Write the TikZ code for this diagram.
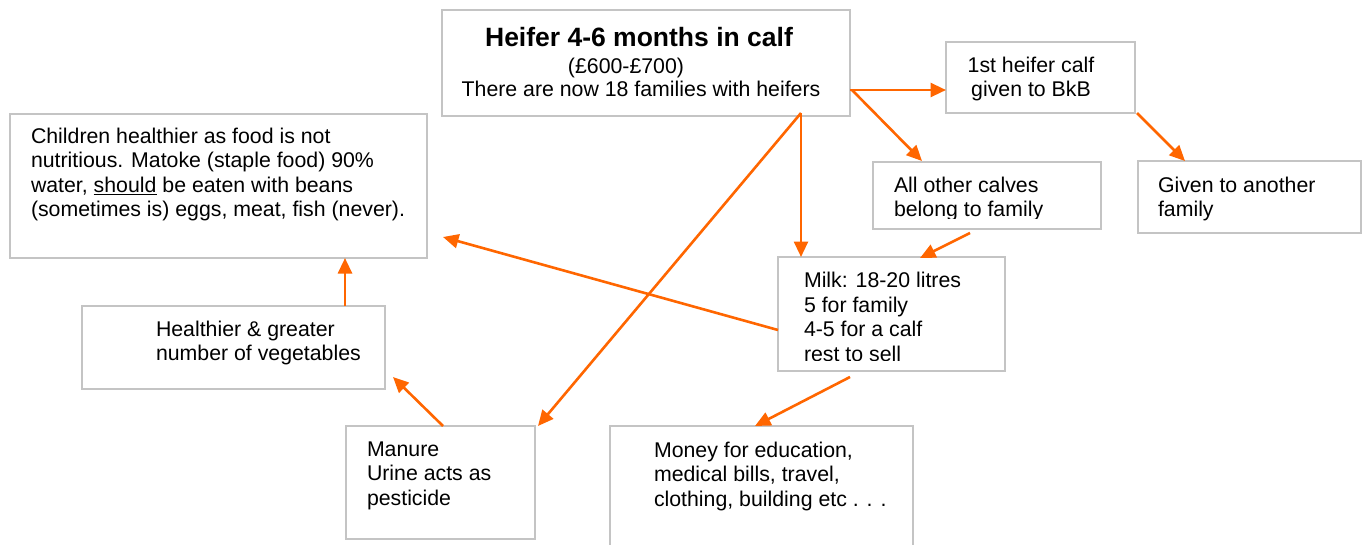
\documentclass[tikz,border=0pt]{standalone}
\usepackage{fontspec}
\setmainfont{Liberation Sans}
\usetikzlibrary{arrows.meta,calc}
\definecolor{boxgray}{RGB}{196,196,196}
\definecolor{arroworange}{RGB}{255,102,0}

\begin{document}
\begin{tikzpicture}[x=1pt,y=-1pt,
  box/.style={draw=boxgray, line width=1.8pt, rectangle, inner sep=0pt,
    outer sep=0pt, anchor=north west},
  txt/.style={inner sep=0pt, outer sep=0pt, anchor=base west,
    font=\fontsize{21.3pt}{24.6pt}\selectfont},
  link/.style={draw=arroworange, line width=2.6pt,
    -{Triangle[length=15.5pt,width=14pt]}}]

% canvas
\fill[white] (0,0) rectangle (1362,544);
\clip (0,0) rectangle (1362,544);

% boxes
\node[box, minimum width=408pt, minimum height=106pt] (heifer)    at (442,10)  {};
\node[box, minimum width=189pt, minimum height=71pt]  (first)     at (946,42)  {};
\node[box, minimum width=228pt, minimum height=67pt]  (allother)  at (873,162) {};
\node[box, minimum width=223pt, minimum height=72pt]  (given)     at (1138,161) {};
\node[box, minimum width=417pt, minimum height=144pt] (children)  at (10,114)  {};
\node[box, minimum width=303pt, minimum height=83pt]  (healthier) at (82,306)  {};
\node[box, minimum width=227pt, minimum height=114pt] (milk)      at (778,257) {};
\node[box, minimum width=189pt, minimum height=113pt] (manure)    at (346,426) {};
\node[box, minimum width=303pt, minimum height=130pt] (money)     at (610,426) {};

% texts
\node[inner sep=0pt, anchor=base, font=\fontsize{26.5pt}{30pt}\selectfont\bfseries]
  (heifertitle) at (639,46) {Heifer 4-6 months in calf};
\node[txt, anchor=base] (heiferprice) at (626,73) {(£600-£700)};
\node[txt, anchor=base] (heiferfam) at (641,96) {There are now 18 families with heifers};

\node[txt, anchor=base] (firsttxt) at (1031,72)
  {\parbox[t]{200pt}{\centering 1st heifer calf\\given to BkB}};

\begin{scope}
  \clip (873,162) rectangle (1101,218);
  \node[txt] (allothertxt) at (894,192)
    {\parbox[t]{220pt}{All other calves\\belong to family}};
\end{scope}

\node[txt] (giventxt) at (1158,192)
  {\parbox[t]{200pt}{Given to another\\family}};

\node[txt] (childrentxt) at (31,143)
  {\parbox[t]{400pt}{Children healthier as food is not\\
   nutritious. Matoke (staple food) 90\%\\
   water, \underline{should} be eaten with beans\\
   (sometimes is) eggs, meat, fish (never).}};

\node[txt] (healthiertxt) at (156,336)
  {\parbox[t]{240pt}{Healthier \& greater\\number of vegetables}};

\begin{scope}
  \clip (778,257) rectangle (1005,360);
  \node[txt] (milktxt) at (804,287.5)
    {\parbox[t]{200pt}{Milk: 18-20 litres\\5 for family\\4-5 for a calf\\rest to sell}};
\end{scope}

\node[txt] (manuretxt) at (367,456)
  {\parbox[t]{170pt}{Manure\\Urine acts as\\pesticide}};

\node[txt] (moneytxt) at (654,457)
  {\parbox[t]{260pt}{Money for education,\\medical bills, travel,\\clothing, building etc . . .}};

% connectors
\draw[link] ($(heifer.north west)+(408,80)$) -- ($(first.north west)+(0,48)$);
\draw[link] ($(heifer.north west)+(410,80)$) -- ($(allother.north west)+(49,-1)$);
\draw[link] ($(heifer.north west)+(359,103)$) -- ($(milk.north west)+(23,0)$);
\draw[link] ($(heifer.north west)+(359,103)$) -- ($(manure.north west)+(192,0)$);
\draw[link] ($(first.north west)+(191,71)$) -- ($(given.north west)+(47,0)$);
\draw[link] ($(allother.north west)+(97,71)$) -- ($(milk.north west)+(142,1)$);
\draw[link] ($(milk.north west)+(0,73)$) -- ($(children.north west)+(433,123)$);
\draw[link] ($(milk.north west)+(72,120)$) -- ($(money.north west)+(145,0)$);
\draw[link] ($(manure.north west)+(97,0)$) -- ($(healthier.north west)+(311,71)$);
\draw[link] ($(healthier.north west)+(263,0)$) -- ($(children.north west)+(335,144)$);

\end{tikzpicture}
\end{document}
